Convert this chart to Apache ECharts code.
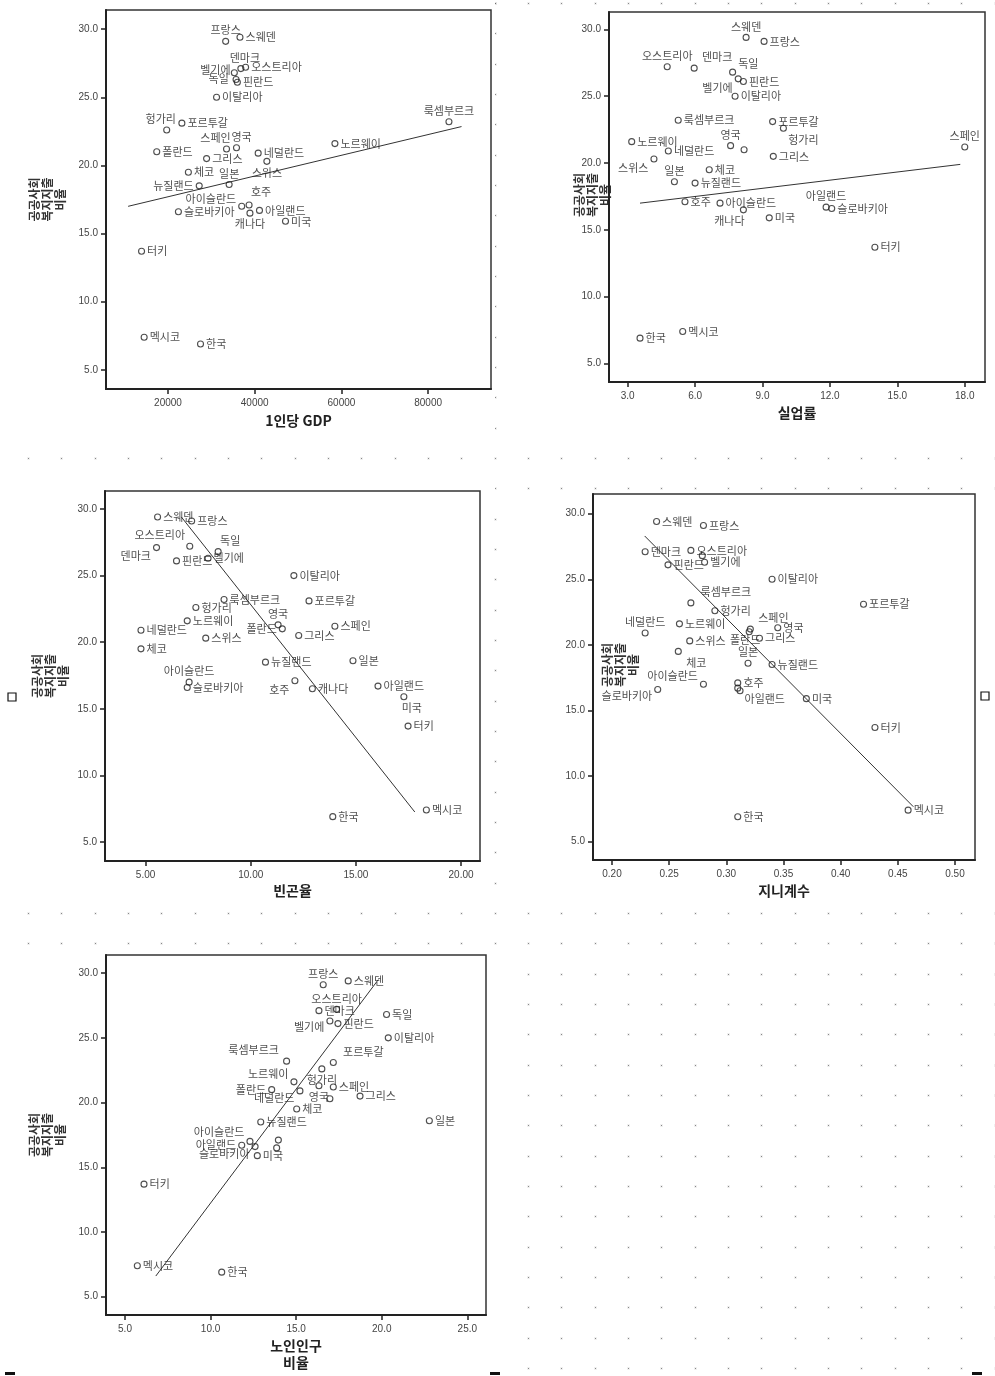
<!DOCTYPE html>
<html><head><meta charset="utf-8">
<script src="https://cdn.jsdelivr.net/npm/echarts@6/dist/echarts.min.js"></script>
<style>html,body{margin:0;padding:0;background:#fff}#c{width:995px;height:1376px}</style>
</head><body><div id="c"></div>
<script>
// ---------------- DATA ----------------
const countries = ['프랑스','스웨덴','덴마크','벨기에','오스트리아','독일','핀란드','이탈리아','헝가리','포르투갈','룩셈부르크','스페인','영국','노르웨이','폴란드','그리스','네덜란드','스위스','체코','일본','뉴질랜드','아이슬란드','호주','슬로바키아','아일랜드','캐나다','미국','터키','멕시코','한국'];
// 공공사회복지지출 비율 (y)
const socialExp = [29.1,29.4,27.1,26.3,27.2,26.8,26.1,25.0,22.6,23.1,23.2,21.2,21.3,21.6,21.0,20.5,20.9,20.3,19.5,18.6,18.5,17.0,17.1,16.6,16.7,16.5,15.9,13.7,7.4,6.9];
// 1인당 GDP
const gdp = [33300,36600,36800,35700,37900,35300,36000,31200,19700,23200,84800,33500,35800,58500,17400,28900,40800,42800,24700,34100,27200,37000,38700,22400,41100,38900,47100,13900,14500,27500];
// 실업률
const unemployment = [9.07,8.27,5.96,7.92,4.76,7.67,8.15,7.78,9.93,9.45,5.25,18.0,7.58,3.18,8.18,9.48,4.81,4.17,6.63,5.08,6.0,7.11,5.55,12.08,11.83,8.15,9.3,14.0,5.45,3.55];
// 빈곤율
const poverty = [7.19,5.57,5.52,7.97,7.1,8.45,6.47,12.05,7.39,12.77,8.73,14.0,11.3,6.98,11.5,12.28,4.78,7.86,4.78,14.86,10.7,7.07,12.1,6.98,16.05,12.93,17.28,17.48,18.35,13.9];
// 지니계수
const gini = [0.280,0.239,0.229,0.281,0.269,0.279,0.249,0.340,0.290,0.420,0.269,0.321,0.345,0.259,0.320,0.329,0.229,0.268,0.258,0.319,0.340,0.280,0.310,0.240,0.310,0.312,0.370,0.430,0.459,0.310];
// 노인인구 비율
const elderly = [16.58,18.04,16.33,16.97,17.36,20.28,17.44,20.38,16.5,17.17,14.44,17.17,16.33,14.87,13.57,18.73,15.22,16.97,15.03,22.78,12.93,12.3,13.96,12.6,11.82,13.86,12.73,6.11,5.72,10.65];
// fit line end points
const fitGdp = [[10800,17.0],[87700,22.85]];
const fitUnemp = [[3.55,17.0],[17.8,19.9]];
const fitPoverty = [[6.7,29.4],[17.8,7.25]];
const fitGini = [[0.2286,28.3],[0.4636,7.66]];
const fitElderly = [[6.8,6.6],[19.8,29.5]];
// tick labels
const yTicks = [5,10,15,20,25,30];
const gdpTicks = [20000,40000,60000,80000];
const unempTicks = [3,6,9,12,15,18];
const povertyTicks = [5,10,15,20];
const giniTicks = [0.20,0.25,0.30,0.35,0.40,0.45,0.50];
const elderlyTicks = [5,10,15,20,25];

// ---------------- LABEL PLACEMENT (style) ----------------
const lab1 = {'프랑스':['top'],'덴마크':['top',4,0],'벨기에':['left',0,-10],'독일':['left',0,6],'헝가리':['top',-6,0],'룩셈부르크':['top'],'스페인':['top',-11,0],'영국':['top',5,0],'스위스':['bottom'],'일본':['top'],'뉴질랜드':['left'],'아이슬란드':['left',0,-8],'호주':['top',12,-2],'캐나다':['bottom']};
const lab2 = {'스웨덴':['top'],'오스트리아':['top'],'덴마크':['top',23,0],'독일':['right',0,-8],'벨기에':['left',0,9],'헝가리':['bottom',20,0],'영국':['top'],'스페인':['top'],'폴란드':['none'],'스위스':['left',0,9],'일본':['top'],'캐나다':['bottom',-14,0],'아일랜드':['top']};
const lab3 = {'오스트리아':['top',-30,0],'덴마크':['left',0,8],'독일':['top',12,0],'영국':['top'],'폴란드':['left'],'아이슬란드':['top'],'호주':['left',0,9],'미국':['bottom',8,0]};
const lab4 = {'독일':['none'],'캐나다':['none'],'룩셈부르크':['top',35,0],'네덜란드':['top'],'스페인':['top',23,0],'폴란드':['bottom',-4,-3],'체코':['bottom',18,0],'일본':['top'],'아이슬란드':['left',0,-8],'아일랜드':['bottom',27,0],'슬로바키아':['left',0,6]};
const lab5 = {'프랑스':['top'],'오스트리아':['top'],'벨기에':['left',0,6],'룩셈부르크':['top',-33,0],'포르투갈':['top',30,0],'헝가리':['bottom'],'노르웨이':['left',0,-8],'영국':['bottom'],'폴란드':['left'],'네덜란드':['left',0,7],'스위스':['none'],'아이슬란드':['left',0,-10],'아일랜드':['left'],'슬로바키아':['left',0,7],'호주':['none'],'캐나다':['none']};

const panels = [
 {x:gdp, fit:fitGdp, ticks:gdpTicks, fmt:v=>String(v), name:'1인당 GDP', grid:[106,10,385,379], xr:[5700,94500], yr:[3.6,31.4], xGap:23, yGap:39, yShift:0, lab:lab1},
 {x:unemployment, fit:fitUnemp, ticks:unempTicks, fmt:v=>v.toFixed(1), name:'실업률', grid:[609,12,376,370], xr:[2.17,18.9], yr:[3.62,31.3], xGap:22, yGap:-3, yShift:2, lab:lab2},
 {x:poverty, fit:fitPoverty, ticks:povertyTicks, fmt:v=>v.toFixed(2), name:'빈곤율', grid:[105,491,375,370], xr:[3.07,20.9], yr:[3.57,31.35], xGap:21, yGap:35, yShift:0, lab:lab3},
 {x:gini, fit:fitGini, ticks:giniTicks, fmt:v=>v.toFixed(2), name:'지니계수', grid:[593,494,382,366], xr:[0.1834,0.5175], yr:[3.6,31.5], xGap:22, yGap:-47, yShift:12, lab:lab4},
 {x:elderly, fit:fitElderly, ticks:elderlyTicks, fmt:v=>v.toFixed(1), name:'노인인구\n비율', grid:[106,955,380,360], xr:[3.89,26.09], yr:[3.59,31.4], xGap:22, yGap:39, yShift:0, lab:lab5}
];

const grids=[], xAxes=[], yAxes=[], series=[];
const tickFont = {fontSize:10, color:'#444', fontFamily:'Liberation Sans, Arial, sans-serif'};
panels.forEach((p,i)=>{
  grids.push({left:p.grid[0], top:p.grid[1], width:p.grid[2], height:p.grid[3], show:true, borderColor:'#333', borderWidth:1.5, backgroundColor:'#fff', containLabel:false});
  xAxes.push({gridIndex:i, type:'value', min:p.xr[0], max:p.xr[1],
    axisLine:{show:true, onZero:false, lineStyle:{color:'#222', width:2}},
    axisTick:{show:true, customValues:p.ticks, length:5, lineStyle:{color:'#222', width:1.5}},
    axisLabel:Object.assign({customValues:p.ticks, formatter:p.fmt, margin:9}, tickFont),
    splitLine:{show:false},
    name:p.name, nameLocation:'middle', nameGap:p.xGap, nameMoveOverlap:false,
    nameTextStyle:{fontSize:14, fontWeight:'bold', color:'#222', lineHeight:17, fontFamily:'Noto Sans CJK KR'}});
  yAxes.push({gridIndex:i, type:'value', min:p.yr[0], max:p.yr[1],
    axisLine:{show:true, onZero:false, lineStyle:{color:'#222', width:2}},
    axisTick:{show:true, customValues:yTicks, length:5, lineStyle:{color:'#222', width:1.5}},
    axisLabel:Object.assign({customValues:yTicks, formatter:v=>v.toFixed(1), margin:8}, tickFont),
    splitLine:{show:false},
    name:'공공사회\n복지지출\n비율', nameLocation:'middle', nameRotate:90, nameGap:p.yGap, nameMoveOverlap:false,
    nameTextStyle:{fontSize:12, fontWeight:'bold', color:'#333', lineHeight:13, fontFamily:'Noto Sans CJK KR', padding:[0,0,0,p.yShift*2]}});
  const data = countries.map((c,k)=>{
    const pl = p.lab[c] || ['right'];
    const item = {name:c, value:[p.x[k], socialExp[k]]};
    if (pl[0]==='none') item.label = {show:false};
    else item.label = {position:pl[0], offset:[pl[1]||0, pl[2]||0]};
    return item;
  });
  series.push({type:'scatter', xAxisIndex:i, yAxisIndex:i, data, symbol:'circle', symbolSize:6,
    itemStyle:{color:'rgba(255,255,255,0)', borderColor:'#222', borderWidth:1.1},
    label:{show:true, formatter:'{b}', fontSize:11, color:'#222', distance:2, fontFamily:'Noto Sans CJK KR'},
    silent:true, z:3});
  series.push({type:'line', xAxisIndex:i, yAxisIndex:i, data:p.fit, symbol:'none', silent:true,
    lineStyle:{color:'#333', width:1}, z:2});
});

// dotted background pattern (decoration of the scanned page)
function dotTile(){
  const c=document.createElement('canvas'); c.width=100; c.height=91;
  const g=c.getContext('2d');
  const xs=[28,61,95], ys=[3,33,64];
  xs.forEach(x=>ys.forEach(y=>{
    g.fillStyle='rgba(170,170,170,0.18)'; g.fillRect(x-1,y-1,3,3);
    g.fillStyle='rgba(100,100,100,0.75)'; g.fillRect(x,y,1,1);
  }));
  return c;
}
const tile = dotTile();
const pat = {image:tile, repeat:'repeat'};
const dotAreas = [[495,0,500,8],[495,0,15,440],[15,452,980,12],[495,482,500,10],[488,495,20,410],[15,905,980,45],[520,950,475,426]];
const graphic = dotAreas.map(a=>({type:'rect', z:-10, silent:true, shape:{x:a[0],y:a[1],width:a[2],height:a[3]}, style:{fill:pat}}));
// small square markers and bars of the scan
[[8,693],[981,692]].forEach(s=>graphic.push({type:'rect', silent:true, shape:{x:s[0],y:s[1],width:8,height:8}, style:{fill:'#fff', stroke:'#111', lineWidth:1.2}}));
[[5,1372],[490,1372],[972,1372]].forEach(s=>graphic.push({type:'rect', silent:true, shape:{x:s[0],y:s[1],width:10,height:3}, style:{fill:'#111'}}));

const chart = echarts.init(document.getElementById('c'));
chart.setOption({animation:false, backgroundColor:'#fff', grid:grids, xAxis:xAxes, yAxis:yAxes, series, graphic});
</script></body></html>
